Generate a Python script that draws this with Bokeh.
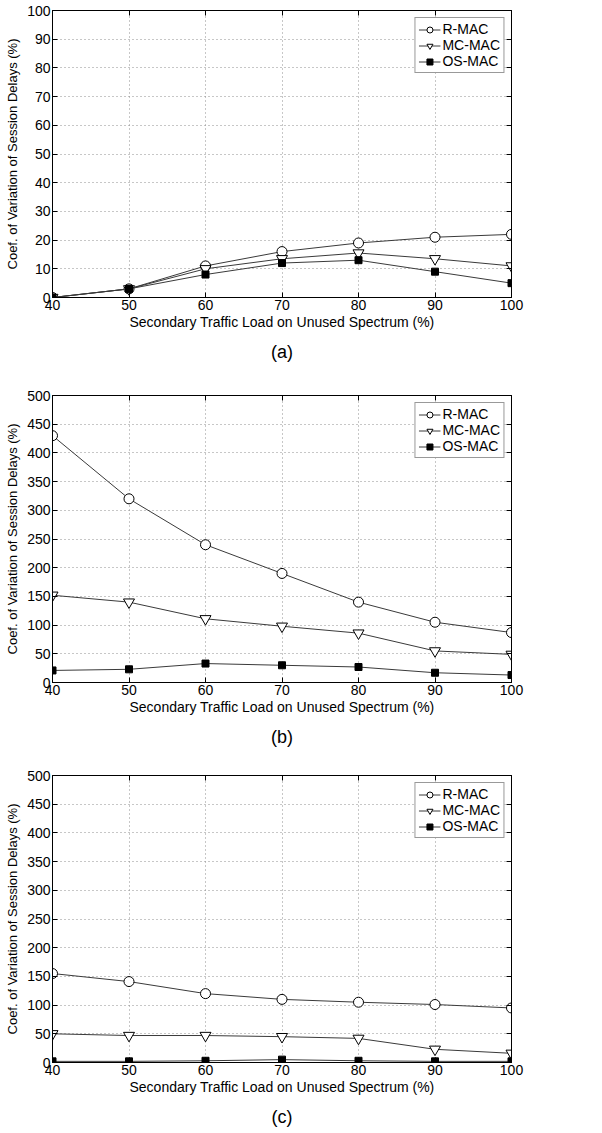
from bokeh.plotting import figure
from bokeh.layouts import column
from bokeh.models import LinearAxis, FixedTicker, Title
from bokeh.embed import file_html
from bokeh.resources import INLINE

# ---- data ----
loads = [40, 50, 60, 70, 80, 90, 100]
x_ticks = [40, 50, 60, 70, 80, 90, 100]
series_names = ["R-MAC", "MC-MAC", "OS-MAC"]

rmac_a = [0, 3, 11, 16, 19, 21, 22]
mcmac_a = [0, 3, 10, 13.5, 15.5, 13.5, 11]
osmac_a = [0, 3, 8, 12, 13, 9, 5]
y_ticks_a = [0, 10, 20, 30, 40, 50, 60, 70, 80, 90, 100]

rmac_b = [430, 320, 240, 190, 140, 105, 87]
mcmac_b = [152, 140, 111, 98, 86, 55, 49]
osmac_b = [21, 23, 33, 30, 27, 17, 13]
y_ticks_b = [0, 50, 100, 150, 200, 250, 300, 350, 400, 450, 500]

rmac_c = [155, 141, 120, 110, 105, 101, 95]
mcmac_c = [50, 47, 47, 45, 42, 23, 16]
osmac_c = [2, 2, 3, 5, 3, 2, 2]
y_ticks_c = [0, 50, 100, 150, 200, 250, 300, 350, 400, 450, 500]

x_label = "Secondary Traffic Load on Unused Spectrum (%)"
y_label = "Coef. of Variation of Session Delays (%)"
panel_tags = ["(a)", "(b)", "(c)"]

FONT = "Liberation Sans"


def style_axis(ax, ticks, labels=True):
    ax.ticker = FixedTicker(ticks=ticks)
    ax.major_tick_in = 5
    ax.major_tick_out = 0
    ax.minor_tick_line_color = None
    ax.major_tick_line_color = "black"
    ax.axis_line_color = "black"
    ax.major_label_standoff = 2
    if labels:
        ax.major_label_text_font = FONT
        ax.major_label_text_font_size = "14px"
        ax.major_label_text_color = "black"
        ax.axis_label_text_font = FONT
        ax.axis_label_text_font_style = "normal"
        ax.axis_label_text_color = "black"
    else:
        ax.major_label_text_font_size = "0px"
        ax.major_label_text_color = None
        ax.major_label_standoff = 0


def make_panel(r, mc, os_, ymax, yticks, tag, bottom_border):
    p = figure(frame_width=459, frame_height=287,
               min_border_left=52, min_border_right=91,
               min_border_top=10, min_border_bottom=bottom_border,
               x_range=(40, 100), y_range=(0, ymax),
               output_backend="svg", toolbar_location=None)
    p.background_fill_color = "white"
    p.border_fill_color = "white"
    p.outline_line_color = "black"
    p.outline_line_width = 1

    style_axis(p.xaxis[0], x_ticks)
    style_axis(p.yaxis[0], yticks)
    p.xaxis[0].axis_label = x_label
    p.xaxis[0].axis_label_text_font_size = "14px"
    p.xaxis[0].axis_label_standoff = 1
    p.yaxis[0].axis_label = y_label
    p.yaxis[0].axis_label_text_font_size = "13px"
    p.yaxis[0].axis_label_standoff = 4

    ax_r = LinearAxis()
    style_axis(ax_r, yticks, labels=False)
    p.add_layout(ax_r, "right")
    ax_t = LinearAxis()
    style_axis(ax_t, x_ticks, labels=False)
    p.add_layout(ax_t, "above")

    for g in (p.xgrid[0], p.ygrid[0]):
        g.grid_line_color = "#8f8f8f"
        g.grid_line_dash = "1 3"
        g.grid_line_width = 1
    p.xgrid[0].ticker = FixedTicker(ticks=x_ticks)
    p.ygrid[0].ticker = FixedTicker(ticks=yticks)

    line_col = "#3a3a3a"
    p.line(loads, r, line_color=line_col, line_width=1, legend_label=series_names[0])
    p.scatter(loads, r, marker="circle", size=10, fill_color="white",
              line_color="black", line_width=1, legend_label=series_names[0])
    p.line(loads, mc, line_color=line_col, line_width=1, legend_label=series_names[1])
    p.scatter(loads, mc, marker="inverted_triangle", size=11, fill_color="white",
              line_color="black", line_width=1, legend_label=series_names[1])
    p.line(loads, os_, line_color=line_col, line_width=1, legend_label=series_names[2])
    p.scatter(loads, os_, marker="square", size=7, fill_color="black",
              line_color="black", line_width=1, legend_label=series_names[2])

    lg = p.legend[0]
    lg.location = "top_right"
    lg.margin = 7
    lg.padding = 3
    lg.spacing = 0
    lg.border_line_color = "#333333"
    lg.border_line_width = 1
    lg.background_fill_color = "white"
    lg.background_fill_alpha = 1
    lg.label_text_font = FONT
    lg.label_text_font_size = "14px"
    lg.label_text_color = "black"
    lg.label_height = 15
    lg.glyph_height = 15
    lg.glyph_width = 22
    lg.label_standoff = 2

    t = Title(text=tag, align="center", text_font=FONT, text_font_size="18px",
              text_font_style="normal", text_color="black", standoff=14)
    p.add_layout(t, "below")
    return p


pa = make_panel(rmac_a, mcmac_a, osmac_a, 100, y_ticks_a, panel_tags[0], 88)
pb = make_panel(rmac_b, mcmac_b, osmac_b, 500, y_ticks_b, panel_tags[1], 83)
pc = make_panel(rmac_c, mcmac_c, osmac_c, 500, y_ticks_c, panel_tags[2], 71)

layout = column(pa, pb, pc, spacing=0)

with open("out.html", "w") as f:
    f.write(file_html(layout, INLINE))
